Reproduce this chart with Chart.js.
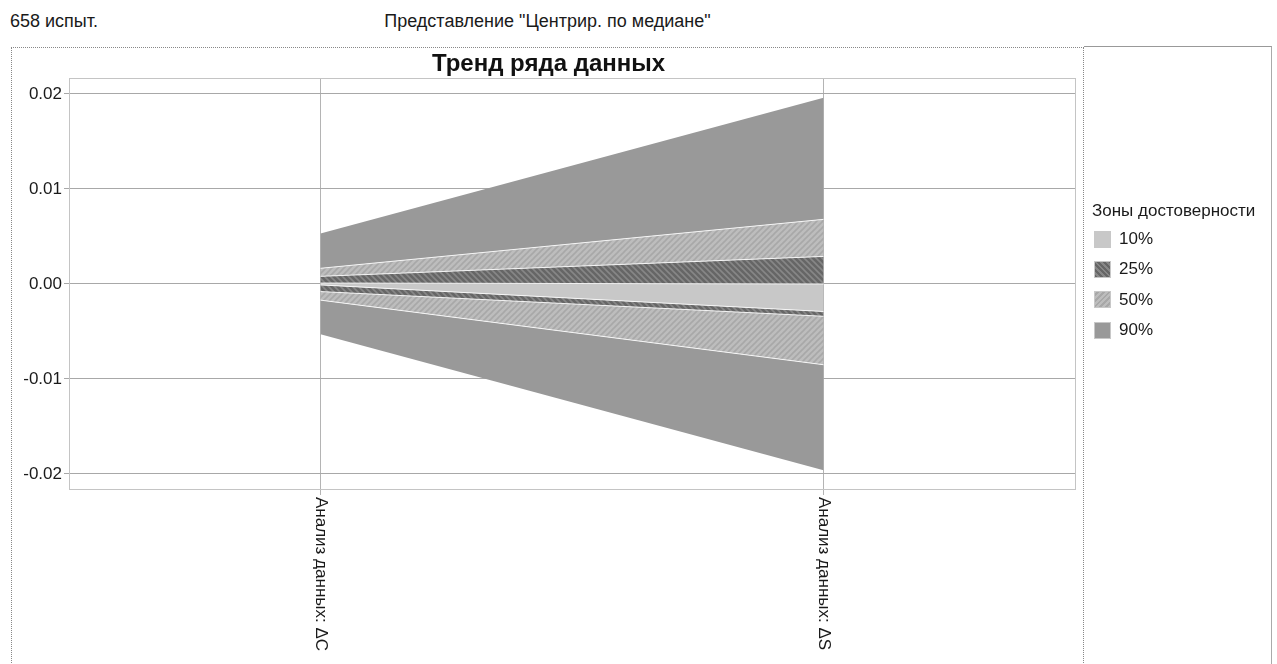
<!DOCTYPE html>
<html>
<head>
<meta charset="utf-8">
<script src="https://cdn.jsdelivr.net/npm/chart.js@4.4.1/dist/chart.umd.min.js"></script>
<style>
  html, body { margin:0; padding:0; background:#fff; }
  body { width:1277px; height:664px; position:relative; overflow:hidden; font-family:"Liberation Sans", Arial, sans-serif; color:#1a1a1a; }
  #trials { position:absolute; left:10px; top:11px; font-size:18px; }
  #view { position:absolute; left:11px; width:1073px; top:11px; font-size:18px; text-align:center; }
  #panel { position:absolute; left:11px; top:47px; width:1071px; height:640px; border:1px dotted #888; }
  #title { position:absolute; left:0; width:1073px; top:1px; font-size:24px; font-weight:bold; text-align:center; color:#111; }
  #wrap { position:absolute; left:0; top:0; width:1071px; height:616px; }
  #legpanel { position:absolute; left:1084px; top:46px; width:187px; height:640px; border-top:1px solid #999; border-right:1px solid #aaa; }
  #legend { position:absolute; left:1092px; top:201px; font-size:17px; }
  #legend .t { margin-bottom:3px; }
  #legend .row { display:flex; align-items:center; height:30.3px; padding-left:2px; }
  #legend .sw { width:17px; height:17px; border:1px solid #c8c8c8; margin-right:8px; box-sizing:border-box; }
</style>
</head>
<body>
<div id="trials">658 испыт.</div>
<div id="view">Представление "Центрир. по медиане"</div>
<div id="panel">
  <div id="wrap"><canvas id="c"></canvas></div>
  <div id="title">Тренд ряда данных</div>
</div>
<div id="legpanel"></div>
<div id="legend"></div>
<script>
// ---- data ----
const categories = ['Анализ данных: ΔC', 'Анализ данных: ΔS'];
const upper90 = [0.0053, 0.0196];
const upper50 = [0.00165, 0.0068];
const upper25 = [0.0008, 0.0029];
const upper10 = [0.0001, 0.0];
const lower10 = [-0.0001, -0.0029];
const lower25 = [-0.0008, -0.0034];
const lower50 = [-0.0017, -0.0085];
const lower90 = [-0.0053, -0.0196];
const yTickValues = [-0.02, -0.01, 0, 0.01, 0.02];
const zoneNames = ['10%', '25%', '50%', '90%'];

// ---- styles ----
function hatch(base, stripe, dir) {
  const s = 6, cv = document.createElement('canvas');
  cv.width = s; cv.height = s;
  const g = cv.getContext('2d');
  g.fillStyle = base; g.fillRect(0, 0, s, s);
  g.strokeStyle = stripe; g.lineWidth = 1.6;
  g.beginPath();
  if (dir === '/') {
    g.moveTo(-1, s + 1); g.lineTo(s + 1, -1);
    g.moveTo(-1, 1); g.lineTo(1, -1);
    g.moveTo(s - 1, s + 1); g.lineTo(s + 1, s - 1);
  } else {
    g.moveTo(-1, -1); g.lineTo(s + 1, s + 1);
    g.moveTo(s - 1, -1); g.lineTo(s + 1, 1);
    g.moveTo(-1, s - 1); g.lineTo(1, s + 1);
  }
  g.stroke();
  return document.getElementById('c').getContext('2d').createPattern(cv, 'repeat');
}
const col90 = '#999999';
const col10 = '#c8c8c8';
const pat50 = hatch('#bdbdbd', '#a8a8a8', '/');
const pat25 = hatch('#666666', '#878787', '\\');
const edge = 'rgba(255,255,255,0.85)';

const toPts = arr => arr.map((v, i) => ({ x: i, y: v }));
function ds(arr, fillColor, border) {
  return {
    data: toPts(arr),
    fill: fillColor ? '-1' : false,
    backgroundColor: fillColor || 'transparent',
    borderColor: border || 'transparent',
    borderWidth: border ? 1 : 0,
    pointRadius: 0, tension: 0
  };
}

const boxPlugin = {
  id: 'box',
  afterDraw(chart) {
    const { ctx, chartArea: a } = chart;
    ctx.save();
    ctx.strokeStyle = '#c4c4c4'; ctx.lineWidth = 1;
    ctx.strokeRect(Math.round(a.left) + 0.5, Math.round(a.top) + 0.5,
                   Math.round(a.right - a.left), Math.round(a.bottom - a.top));
    // rotated category labels (reading top to bottom)
    const xs = chart.scales.x;
    ctx.fillStyle = '#1a1a1a';
    ctx.font = '17px "Liberation Sans", Arial, sans-serif';
    ctx.textAlign = 'left'; ctx.textBaseline = 'middle';
    categories.forEach((lab, i) => {
      const px = xs.getPixelForValue(i);
      ctx.save();
      ctx.translate(px, a.bottom + 8);
      ctx.rotate(Math.PI / 2);
      ctx.fillText(lab, 0, 0);
      ctx.restore();
    });
    ctx.restore();
  }
};

new Chart(document.getElementById('c'), {
  type: 'line',
  data: {
    datasets: [
      ds(upper90, null, null),
      ds(upper50, col90, edge),
      ds(upper25, pat50, edge),
      ds(upper10, pat25, edge),
      ds(lower10, col10, edge),
      ds(lower25, pat25, edge),
      ds(lower50, pat50, edge),
      ds(lower90, col90, null)
    ]
  },
  options: {
    responsive: true, maintainAspectRatio: false, animation: false,
    layout: { padding: { top: 30, right: 8, left: 0, bottom: 0 } },
    plugins: { legend: { display: false }, title: { display: false }, tooltip: { enabled: false }, filler: { propagate: false } },
    scales: {
      x: {
        type: 'linear', min: -0.5, max: 1.5,
        afterBuildTicks: s => { s.ticks = categories.map((_, i) => ({ value: i })); },
        afterFit: s => { s.height = 175; },
        ticks: { display: false },
        grid: { color: '#b4b4b4', tickLength: 6, drawOnChartArea: true },
        border: { display: false }
      },
      y: {
        min: -0.02158, max: 0.02168,
        afterBuildTicks: s => { s.ticks = yTickValues.map(v => ({ value: v })); },
        afterFit: s => { s.width = 57; },
        ticks: {
          color: '#1a1a1a', padding: 2,
          font: { family: '"Liberation Sans", Arial, sans-serif', size: 17 },
          callback: v => v.toFixed(2)
        },
        grid: { color: '#a8a8a8', tickLength: 5 },
        border: { display: false }
      }
    }
  },
  plugins: [boxPlugin]
});

// ---- HTML legend ----
const swatchCss = {
  '10%': 'background:' + col10,
  '25%': 'background:repeating-linear-gradient(45deg,#666 0 2px,#878787 2px 4px)',
  '50%': 'background:repeating-linear-gradient(-45deg,#bdbdbd 0 2px,#a8a8a8 2px 4px)',
  '90%': 'background:' + col90
};
const leg = document.getElementById('legend');
leg.innerHTML = '<div class="t">Зоны достоверности</div>' +
  zoneNames.map(n => '<div class="row"><div class="sw" style="' + swatchCss[n] + '"></div>' + n + '</div>').join('');
</script>
</body>
</html>
